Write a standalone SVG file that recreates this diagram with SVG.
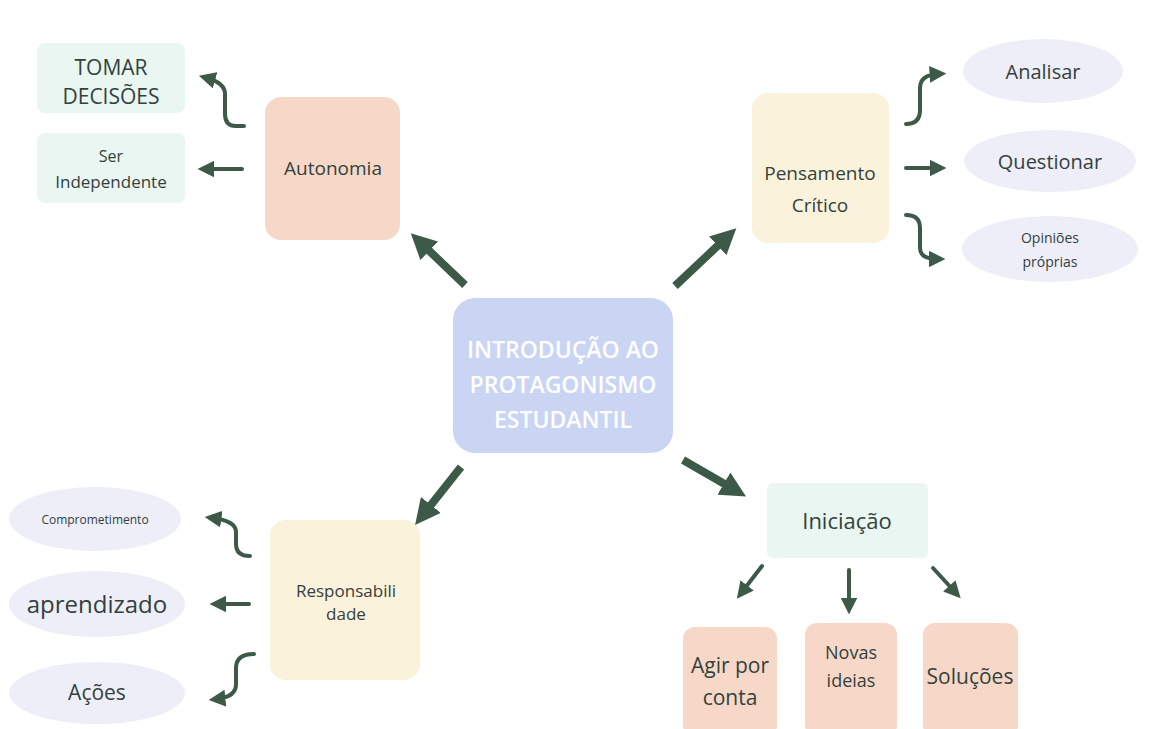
<svg xmlns="http://www.w3.org/2000/svg" width="1174" height="729" viewBox="0 0 1174 729">
<defs>
<marker id="big" viewBox="0 0 10 10" refX="5" refY="5" markerWidth="3.2" markerHeight="3.2" orient="auto" markerUnits="strokeWidth"><path d="M0,0 L10,5 L0,10 z" fill="#3c5a47"/></marker>
<marker id="sm" viewBox="0 0 10 10" refX="5" refY="5" markerWidth="4.2" markerHeight="4.2" orient="auto" markerUnits="strokeWidth"><path d="M0,0 L10,5 L0,10 z" fill="#3c5a47"/></marker>
<style>
text{font-family:"Open Sans","Liberation Sans",sans-serif;fill:#33413d;text-anchor:middle;dominant-baseline:central;font-weight:500}
.w{fill:#ffffff;font-weight:600}
.mint{fill:#e9f6f1}
.peach{fill:#f7d8c8}
.yel{fill:#fbf2dc}
.lav{fill:#eeeef8}
.big{stroke:#3c5a47;stroke-width:8;fill:none;marker-end:url(#big)}
.sm{stroke:#3c5a47;stroke-width:4;fill:none;marker-end:url(#sm);stroke-linecap:round}
</style>
</defs>
<rect width="1174" height="729" fill="#ffffff"/>

<g id="center">
<rect x="453" y="298" width="220" height="155" rx="22" fill="#cad5f4"/>
<text x="563" y="349" font-size="23" class="w">INTRODUÇÃO AO</text>
<text x="563" y="384" font-size="23" class="w">PROTAGONISMO</text>
<text x="563" y="419" font-size="23" class="w">ESTUDANTIL</text>
</g>

<g id="autonomia">
<rect x="265" y="97" width="135" height="143" rx="16" class="peach"/>
<text x="333" y="168" font-size="19">Autonomia</text>
</g>
<g id="tomar-decisoes">
<rect x="37" y="43" width="148" height="70" rx="8" class="mint"/>
<text x="111" y="67" font-size="21">TOMAR</text>
<text x="111" y="96" font-size="21">DECISÕES</text>
</g>
<g id="ser-independente">
<rect x="37" y="133" width="148" height="70" rx="8" class="mint"/>
<text x="111" y="156" font-size="16">Ser</text>
<text x="111" y="181" font-size="17">Independente</text>
</g>

<g id="pensamento">
<rect x="752" y="93" width="137" height="150" rx="16" class="yel"/>
<text x="820" y="173" font-size="19">Pensamento</text>
<text x="820" y="205" font-size="19">Crítico</text>
</g>
<g id="analisar">
<ellipse cx="1043" cy="71" rx="80" ry="32" class="lav"/>
<text x="1043" y="71" font-size="20">Analisar</text>
</g>
<g id="questionar">
<ellipse cx="1050" cy="161" rx="86" ry="31" class="lav"/>
<text x="1050" y="161" font-size="20">Questionar</text>
</g>
<g id="opinioes">
<ellipse cx="1050" cy="249" rx="88" ry="33" class="lav"/>
<text x="1050" y="237" font-size="14">Opiniões</text>
<text x="1050" y="261" font-size="14">próprias</text>
</g>

<g id="responsabilidade">
<rect x="270" y="520" width="150" height="160" rx="16" class="yel"/>
<text x="346" y="590" font-size="17">Responsabili</text>
<text x="346" y="613" font-size="17">dade</text>
</g>
<g id="comprometimento">
<ellipse cx="95" cy="519" rx="86" ry="32" class="lav"/>
<text x="95" y="519" font-size="12">Comprometimento</text>
</g>
<g id="aprendizado">
<ellipse cx="97" cy="604" rx="88" ry="33" class="lav"/>
<text x="97" y="603" font-size="24">aprendizado</text>
</g>
<g id="acoes">
<ellipse cx="97" cy="693" rx="88" ry="31" class="lav"/>
<text x="97" y="692" font-size="21">Ações</text>
</g>

<g id="iniciacao">
<rect x="767" y="483" width="161" height="75" rx="6" class="mint"/>
<text x="847" y="520" font-size="22">Iniciação</text>
</g>
<g id="agir">
<rect x="683" y="627" width="94" height="110" rx="12" class="peach"/>
<text x="730" y="665" font-size="21">Agir por</text>
<text x="730" y="697" font-size="21">conta</text>
</g>
<g id="novas-ideias">
<rect x="805" y="623" width="92" height="114" rx="12" class="peach"/>
<text x="851" y="652" font-size="18">Novas</text>
<text x="851" y="680" font-size="18">ideias</text>
</g>
<g id="solucoes">
<rect x="923" y="623" width="95" height="114" rx="12" class="peach"/>
<text x="970" y="676" font-size="21">Soluções</text>
</g>

<g id="connectors">
<path class="big" d="M465,285 L420,242"/>
<path class="big" d="M675,286 L727,237"/>
<path class="big" d="M461,467 L423,515"/>
<path class="big" d="M683,460 L735,490"/>

<path class="sm" d="M244,126 L236,126 Q225,126 225,114 L225,94 Q225,83 207,78"/>
<path class="sm" d="M242,169 L206,169"/>
<path class="sm" d="M906,124 Q920,124 920,110 L920,88 Q920,75 938,74"/>
<path class="sm" d="M906,168 L938,168"/>
<path class="sm" d="M906,215 Q920,215 920,228 L920,248 Q920,259 937,259"/>

<path class="sm" d="M250,556 Q236,556 236,544 L236,532 Q236,521 213,518"/>
<path class="sm" d="M249,604 L218,604"/>
<path class="sm" d="M254,654 Q236,654 236,668 L236,684 Q236,697 217,699"/>

<path class="sm" d="M762,566 L742,592"/>
<path class="sm" d="M849,570 L849,606"/>
<path class="sm" d="M933,568 L955,592"/>
</g>
</svg>
